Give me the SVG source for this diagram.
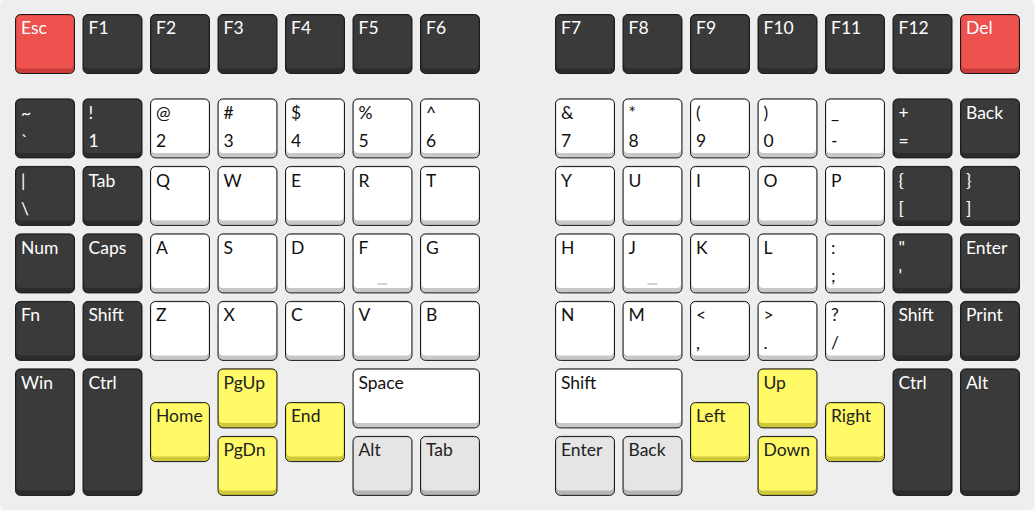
<svg xmlns="http://www.w3.org/2000/svg" width="1035" height="511" viewBox="0 0 1035 511">
<style>
.o{stroke:#1a1a1a;stroke-width:1}
.dk .o{fill:#2c2c2c}.dk .f{fill:#3a3a3a}.dk text{fill:#ffffff}
.wh .o{fill:#c8c8c8}.wh .f{fill:#ffffff}.wh text{fill:#111111}
.rd .o{fill:#c93c3a}.rd .f{fill:#ed524f}.rd text{fill:#ffffff}
.yl .o{fill:#cfc83c}.yl .f{fill:#fffa66}.yl text{fill:#222222}
.gy .o{fill:#b5b5b5}.gy .f{fill:#e5e5e5}.gy text{fill:#222222}
text{font-family:Lato,"Liberation Sans",sans-serif;font-size:17.5px}
.nub{stroke:#c4c4c4;stroke-width:1.5}
</style>
<rect x="0" y="0" width="1035" height="511" fill="#f8f8f8"/>
<rect x="0" y="0" width="1034" height="510" rx="6" fill="#eeeeee"/>

<!-- Row 0 -->
<g id="k-esc" class="rd"><rect class="o" x="15.5" y="14.5" width="59" height="59" rx="5"/><rect class="f" x="16.5" y="15.5" width="57" height="53" rx="4"/><text x="21" y="34">Esc</text></g>
<g id="k-f1" class="dk"><rect class="o" x="83" y="14.5" width="59" height="59" rx="5"/><rect class="f" x="84" y="15.5" width="57" height="53" rx="4"/><text x="88.5" y="34">F1</text></g>
<g id="k-f2" class="dk"><rect class="o" x="150.5" y="14.5" width="59" height="59" rx="5"/><rect class="f" x="151.5" y="15.5" width="57" height="53" rx="4"/><text x="156" y="34">F2</text></g>
<g id="k-f3" class="dk"><rect class="o" x="218" y="14.5" width="59" height="59" rx="5"/><rect class="f" x="219" y="15.5" width="57" height="53" rx="4"/><text x="223.5" y="34">F3</text></g>
<g id="k-f4" class="dk"><rect class="o" x="285.5" y="14.5" width="59" height="59" rx="5"/><rect class="f" x="286.5" y="15.5" width="57" height="53" rx="4"/><text x="291" y="34">F4</text></g>
<g id="k-f5" class="dk"><rect class="o" x="353" y="14.5" width="59" height="59" rx="5"/><rect class="f" x="354" y="15.5" width="57" height="53" rx="4"/><text x="358.5" y="34">F5</text></g>
<g id="k-f6" class="dk"><rect class="o" x="420.5" y="14.5" width="59" height="59" rx="5"/><rect class="f" x="421.5" y="15.5" width="57" height="53" rx="4"/><text x="426" y="34">F6</text></g>
<g id="k-f7" class="dk"><rect class="o" x="555.5" y="14.5" width="59" height="59" rx="5"/><rect class="f" x="556.5" y="15.5" width="57" height="53" rx="4"/><text x="561" y="34">F7</text></g>
<g id="k-f8" class="dk"><rect class="o" x="623" y="14.5" width="59" height="59" rx="5"/><rect class="f" x="624" y="15.5" width="57" height="53" rx="4"/><text x="628.5" y="34">F8</text></g>
<g id="k-f9" class="dk"><rect class="o" x="690.5" y="14.5" width="59" height="59" rx="5"/><rect class="f" x="691.5" y="15.5" width="57" height="53" rx="4"/><text x="696" y="34">F9</text></g>
<g id="k-f10" class="dk"><rect class="o" x="758" y="14.5" width="59" height="59" rx="5"/><rect class="f" x="759" y="15.5" width="57" height="53" rx="4"/><text x="763.5" y="34">F10</text></g>
<g id="k-f11" class="dk"><rect class="o" x="825.5" y="14.5" width="59" height="59" rx="5"/><rect class="f" x="826.5" y="15.5" width="57" height="53" rx="4"/><text x="831" y="34">F11</text></g>
<g id="k-f12" class="dk"><rect class="o" x="893" y="14.5" width="59" height="59" rx="5"/><rect class="f" x="894" y="15.5" width="57" height="53" rx="4"/><text x="898.5" y="34">F12</text></g>
<g id="k-del" class="rd"><rect class="o" x="960.5" y="14.5" width="59" height="59" rx="5"/><rect class="f" x="961.5" y="15.5" width="57" height="53" rx="4"/><text x="966" y="34">Del</text></g>

<!-- Row 1 (y=98.4) -->
<g id="k-tilde" class="dk"><rect class="o" x="15.5" y="98.9" width="59" height="59" rx="5"/><rect class="f" x="16.5" y="99.9" width="57" height="53" rx="4"/><text x="21" y="119">~</text><text x="21" y="147">`</text></g>
<g id="k-1" class="dk"><rect class="o" x="83" y="98.9" width="59" height="59" rx="5"/><rect class="f" x="84" y="99.9" width="57" height="53" rx="4"/><text x="88.5" y="119">!</text><text x="88.5" y="147">1</text></g>
<g id="k-2" class="wh"><rect class="o" x="150.5" y="98.9" width="59" height="59" rx="5"/><rect class="f" x="151.5" y="99.9" width="57" height="53" rx="4"/><text x="156" y="119">@</text><text x="156" y="147">2</text></g>
<g id="k-3" class="wh"><rect class="o" x="218" y="98.9" width="59" height="59" rx="5"/><rect class="f" x="219" y="99.9" width="57" height="53" rx="4"/><text x="223.5" y="119">#</text><text x="223.5" y="147">3</text></g>
<g id="k-4" class="wh"><rect class="o" x="285.5" y="98.9" width="59" height="59" rx="5"/><rect class="f" x="286.5" y="99.9" width="57" height="53" rx="4"/><text x="291" y="119">$</text><text x="291" y="147">4</text></g>
<g id="k-5" class="wh"><rect class="o" x="353" y="98.9" width="59" height="59" rx="5"/><rect class="f" x="354" y="99.9" width="57" height="53" rx="4"/><text x="358.5" y="119">%</text><text x="358.5" y="147">5</text></g>
<g id="k-6" class="wh"><rect class="o" x="420.5" y="98.9" width="59" height="59" rx="5"/><rect class="f" x="421.5" y="99.9" width="57" height="53" rx="4"/><text x="426" y="119">^</text><text x="426" y="147">6</text></g>
<g id="k-7" class="wh"><rect class="o" x="555.5" y="98.9" width="59" height="59" rx="5"/><rect class="f" x="556.5" y="99.9" width="57" height="53" rx="4"/><text x="561" y="119">&amp;</text><text x="561" y="147">7</text></g>
<g id="k-8" class="wh"><rect class="o" x="623" y="98.9" width="59" height="59" rx="5"/><rect class="f" x="624" y="99.9" width="57" height="53" rx="4"/><text x="628.5" y="119">*</text><text x="628.5" y="147">8</text></g>
<g id="k-9" class="wh"><rect class="o" x="690.5" y="98.9" width="59" height="59" rx="5"/><rect class="f" x="691.5" y="99.9" width="57" height="53" rx="4"/><text x="696" y="119">(</text><text x="696" y="147">9</text></g>
<g id="k-0" class="wh"><rect class="o" x="758" y="98.9" width="59" height="59" rx="5"/><rect class="f" x="759" y="99.9" width="57" height="53" rx="4"/><text x="763.5" y="119">)</text><text x="763.5" y="147">0</text></g>
<g id="k-minus" class="wh"><rect class="o" x="825.5" y="98.9" width="59" height="59" rx="5"/><rect class="f" x="826.5" y="99.9" width="57" height="53" rx="4"/><text x="831" y="119">_</text><text x="831" y="147">-</text></g>
<g id="k-equal" class="dk"><rect class="o" x="893" y="98.9" width="59" height="59" rx="5"/><rect class="f" x="894" y="99.9" width="57" height="53" rx="4"/><text x="898.5" y="119">+</text><text x="898.5" y="147">=</text></g>
<g id="k-back" class="dk"><rect class="o" x="960.5" y="98.9" width="59" height="59" rx="5"/><rect class="f" x="961.5" y="99.9" width="57" height="53" rx="4"/><text x="966" y="119">Back</text></g>

<!-- Row 2 (y=165.9) -->
<g id="k-pipe" class="dk"><rect class="o" x="15.5" y="166.4" width="59" height="59" rx="5"/><rect class="f" x="16.5" y="167.4" width="57" height="53" rx="4"/><text x="21" y="186.5">|</text><text x="21" y="214.5">\</text></g>
<g id="k-tab" class="dk"><rect class="o" x="83" y="166.4" width="59" height="59" rx="5"/><rect class="f" x="84" y="167.4" width="57" height="53" rx="4"/><text x="88.5" y="186.5">Tab</text></g>
<g id="k-q" class="wh"><rect class="o" x="150.5" y="166.4" width="59" height="59" rx="5"/><rect class="f" x="151.5" y="167.4" width="57" height="53" rx="4"/><text x="156" y="186.5">Q</text></g>
<g id="k-w" class="wh"><rect class="o" x="218" y="166.4" width="59" height="59" rx="5"/><rect class="f" x="219" y="167.4" width="57" height="53" rx="4"/><text x="223.5" y="186.5">W</text></g>
<g id="k-e" class="wh"><rect class="o" x="285.5" y="166.4" width="59" height="59" rx="5"/><rect class="f" x="286.5" y="167.4" width="57" height="53" rx="4"/><text x="291" y="186.5">E</text></g>
<g id="k-r" class="wh"><rect class="o" x="353" y="166.4" width="59" height="59" rx="5"/><rect class="f" x="354" y="167.4" width="57" height="53" rx="4"/><text x="358.5" y="186.5">R</text></g>
<g id="k-t" class="wh"><rect class="o" x="420.5" y="166.4" width="59" height="59" rx="5"/><rect class="f" x="421.5" y="167.4" width="57" height="53" rx="4"/><text x="426" y="186.5">T</text></g>
<g id="k-y" class="wh"><rect class="o" x="555.5" y="166.4" width="59" height="59" rx="5"/><rect class="f" x="556.5" y="167.4" width="57" height="53" rx="4"/><text x="561" y="186.5">Y</text></g>
<g id="k-u" class="wh"><rect class="o" x="623" y="166.4" width="59" height="59" rx="5"/><rect class="f" x="624" y="167.4" width="57" height="53" rx="4"/><text x="628.5" y="186.5">U</text></g>
<g id="k-i" class="wh"><rect class="o" x="690.5" y="166.4" width="59" height="59" rx="5"/><rect class="f" x="691.5" y="167.4" width="57" height="53" rx="4"/><text x="696" y="186.5">I</text></g>
<g id="k-o" class="wh"><rect class="o" x="758" y="166.4" width="59" height="59" rx="5"/><rect class="f" x="759" y="167.4" width="57" height="53" rx="4"/><text x="763.5" y="186.5">O</text></g>
<g id="k-p" class="wh"><rect class="o" x="825.5" y="166.4" width="59" height="59" rx="5"/><rect class="f" x="826.5" y="167.4" width="57" height="53" rx="4"/><text x="831" y="186.5">P</text></g>
<g id="k-lbr" class="dk"><rect class="o" x="893" y="166.4" width="59" height="59" rx="5"/><rect class="f" x="894" y="167.4" width="57" height="53" rx="4"/><text x="898.5" y="186.5">{</text><text x="898.5" y="214.5">[</text></g>
<g id="k-rbr" class="dk"><rect class="o" x="960.5" y="166.4" width="59" height="59" rx="5"/><rect class="f" x="961.5" y="167.4" width="57" height="53" rx="4"/><text x="966" y="186.5">}</text><text x="966" y="214.5">]</text></g>

<!-- Row 3 (y=233.4) -->
<g id="k-num" class="dk"><rect class="o" x="15.5" y="233.9" width="59" height="59" rx="5"/><rect class="f" x="16.5" y="234.9" width="57" height="53" rx="4"/><text x="21" y="254">Num</text></g>
<g id="k-caps" class="dk"><rect class="o" x="83" y="233.9" width="59" height="59" rx="5"/><rect class="f" x="84" y="234.9" width="57" height="53" rx="4"/><text x="88.5" y="254">Caps</text></g>
<g id="k-a" class="wh"><rect class="o" x="150.5" y="233.9" width="59" height="59" rx="5"/><rect class="f" x="151.5" y="234.9" width="57" height="53" rx="4"/><text x="156" y="254">A</text></g>
<g id="k-s" class="wh"><rect class="o" x="218" y="233.9" width="59" height="59" rx="5"/><rect class="f" x="219" y="234.9" width="57" height="53" rx="4"/><text x="223.5" y="254">S</text></g>
<g id="k-d" class="wh"><rect class="o" x="285.5" y="233.9" width="59" height="59" rx="5"/><rect class="f" x="286.5" y="234.9" width="57" height="53" rx="4"/><text x="291" y="254">D</text></g>
<g id="k-f" class="wh"><rect class="o" x="353" y="233.9" width="59" height="59" rx="5"/><rect class="f" x="354" y="234.9" width="57" height="53" rx="4"/><text x="358.5" y="254">F</text><line class="nub" x1="377.5" y1="284" x2="387.5" y2="284"/></g>
<g id="k-g" class="wh"><rect class="o" x="420.5" y="233.9" width="59" height="59" rx="5"/><rect class="f" x="421.5" y="234.9" width="57" height="53" rx="4"/><text x="426" y="254">G</text></g>
<g id="k-h" class="wh"><rect class="o" x="555.5" y="233.9" width="59" height="59" rx="5"/><rect class="f" x="556.5" y="234.9" width="57" height="53" rx="4"/><text x="561" y="254">H</text></g>
<g id="k-j" class="wh"><rect class="o" x="623" y="233.9" width="59" height="59" rx="5"/><rect class="f" x="624" y="234.9" width="57" height="53" rx="4"/><text x="628.5" y="254">J</text><line class="nub" x1="647.5" y1="284" x2="657.5" y2="284"/></g>
<g id="k-k" class="wh"><rect class="o" x="690.5" y="233.9" width="59" height="59" rx="5"/><rect class="f" x="691.5" y="234.9" width="57" height="53" rx="4"/><text x="696" y="254">K</text></g>
<g id="k-l" class="wh"><rect class="o" x="758" y="233.9" width="59" height="59" rx="5"/><rect class="f" x="759" y="234.9" width="57" height="53" rx="4"/><text x="763.5" y="254">L</text></g>
<g id="k-semi" class="wh"><rect class="o" x="825.5" y="233.9" width="59" height="59" rx="5"/><rect class="f" x="826.5" y="234.9" width="57" height="53" rx="4"/><text x="831" y="254">:</text><text x="831" y="282">;</text></g>
<g id="k-quote" class="dk"><rect class="o" x="893" y="233.9" width="59" height="59" rx="5"/><rect class="f" x="894" y="234.9" width="57" height="53" rx="4"/><text x="898.5" y="254">"</text><text x="898.5" y="282">'</text></g>
<g id="k-enter" class="dk"><rect class="o" x="960.5" y="233.9" width="59" height="59" rx="5"/><rect class="f" x="961.5" y="234.9" width="57" height="53" rx="4"/><text x="966" y="254">Enter</text></g>

<!-- Row 4 (y=300.9) -->
<g id="k-fn" class="dk"><rect class="o" x="15.5" y="301.4" width="59" height="59" rx="5"/><rect class="f" x="16.5" y="302.4" width="57" height="53" rx="4"/><text x="21" y="321">Fn</text></g>
<g id="k-lshift" class="dk"><rect class="o" x="83" y="301.4" width="59" height="59" rx="5"/><rect class="f" x="84" y="302.4" width="57" height="53" rx="4"/><text x="88.5" y="321">Shift</text></g>
<g id="k-z" class="wh"><rect class="o" x="150.5" y="301.4" width="59" height="59" rx="5"/><rect class="f" x="151.5" y="302.4" width="57" height="53" rx="4"/><text x="156" y="321">Z</text></g>
<g id="k-x" class="wh"><rect class="o" x="218" y="301.4" width="59" height="59" rx="5"/><rect class="f" x="219" y="302.4" width="57" height="53" rx="4"/><text x="223.5" y="321">X</text></g>
<g id="k-c" class="wh"><rect class="o" x="285.5" y="301.4" width="59" height="59" rx="5"/><rect class="f" x="286.5" y="302.4" width="57" height="53" rx="4"/><text x="291" y="321">C</text></g>
<g id="k-v" class="wh"><rect class="o" x="353" y="301.4" width="59" height="59" rx="5"/><rect class="f" x="354" y="302.4" width="57" height="53" rx="4"/><text x="358.5" y="321">V</text></g>
<g id="k-b" class="wh"><rect class="o" x="420.5" y="301.4" width="59" height="59" rx="5"/><rect class="f" x="421.5" y="302.4" width="57" height="53" rx="4"/><text x="426" y="321">B</text></g>
<g id="k-n" class="wh"><rect class="o" x="555.5" y="301.4" width="59" height="59" rx="5"/><rect class="f" x="556.5" y="302.4" width="57" height="53" rx="4"/><text x="561" y="321">N</text></g>
<g id="k-m" class="wh"><rect class="o" x="623" y="301.4" width="59" height="59" rx="5"/><rect class="f" x="624" y="302.4" width="57" height="53" rx="4"/><text x="628.5" y="321">M</text></g>
<g id="k-comma" class="wh"><rect class="o" x="690.5" y="301.4" width="59" height="59" rx="5"/><rect class="f" x="691.5" y="302.4" width="57" height="53" rx="4"/><text x="696" y="321">&lt;</text><text x="696" y="349">,</text></g>
<g id="k-period" class="wh"><rect class="o" x="758" y="301.4" width="59" height="59" rx="5"/><rect class="f" x="759" y="302.4" width="57" height="53" rx="4"/><text x="763.5" y="321">&gt;</text><text x="763.5" y="349">.</text></g>
<g id="k-slash" class="wh"><rect class="o" x="825.5" y="301.4" width="59" height="59" rx="5"/><rect class="f" x="826.5" y="302.4" width="57" height="53" rx="4"/><text x="831" y="321">?</text><text x="831" y="349">/</text></g>
<g id="k-rshift" class="dk"><rect class="o" x="893" y="301.4" width="59" height="59" rx="5"/><rect class="f" x="894" y="302.4" width="57" height="53" rx="4"/><text x="898.5" y="321">Shift</text></g>
<g id="k-print" class="dk"><rect class="o" x="960.5" y="301.4" width="59" height="59" rx="5"/><rect class="f" x="961.5" y="302.4" width="57" height="53" rx="4"/><text x="966" y="321">Print</text></g>

<!-- Thumb rows -->
<g id="k-win" class="dk"><rect class="o" x="15.5" y="368.9" width="59" height="126.5" rx="5"/><rect class="f" x="16.5" y="369.9" width="57" height="120.5" rx="4"/><text x="21" y="389">Win</text></g>
<g id="k-lctrl" class="dk"><rect class="o" x="83" y="368.9" width="59" height="126.5" rx="5"/><rect class="f" x="84" y="369.9" width="57" height="120.5" rx="4"/><text x="88.5" y="389">Ctrl</text></g>
<g id="k-home" class="yl"><rect class="o" x="150.5" y="402.6" width="59" height="59" rx="5"/><rect class="f" x="151.5" y="403.6" width="57" height="53" rx="4"/><text x="156" y="422">Home</text></g>
<g id="k-pgup" class="yl"><rect class="o" x="218" y="368.9" width="59" height="59" rx="5"/><rect class="f" x="219" y="369.9" width="57" height="53" rx="4"/><text x="223.5" y="389">PgUp</text></g>
<g id="k-pgdn" class="yl"><rect class="o" x="218" y="436.4" width="59" height="59" rx="5"/><rect class="f" x="219" y="437.4" width="57" height="53" rx="4"/><text x="223.5" y="456">PgDn</text></g>
<g id="k-end" class="yl"><rect class="o" x="285.5" y="402.6" width="59" height="59" rx="5"/><rect class="f" x="286.5" y="403.6" width="57" height="53" rx="4"/><text x="291" y="422">End</text></g>
<g id="k-space" class="wh"><rect class="o" x="353" y="368.9" width="126.5" height="59" rx="5"/><rect class="f" x="354" y="369.9" width="124.5" height="53" rx="4"/><text x="358.5" y="389">Space</text></g>
<g id="k-lalt" class="gy"><rect class="o" x="353" y="436.4" width="59" height="59" rx="5"/><rect class="f" x="354" y="437.4" width="57" height="53" rx="4"/><text x="358.5" y="456">Alt</text></g>
<g id="k-ltab" class="gy"><rect class="o" x="420.5" y="436.4" width="59" height="59" rx="5"/><rect class="f" x="421.5" y="437.4" width="57" height="53" rx="4"/><text x="426" y="456">Tab</text></g>

<g id="k-shift2" class="wh"><rect class="o" x="555.5" y="368.9" width="126.5" height="59" rx="5"/><rect class="f" x="556.5" y="369.9" width="124.5" height="53" rx="4"/><text x="561" y="389">Shift</text></g>
<g id="k-renter" class="gy"><rect class="o" x="555.5" y="436.4" width="59" height="59" rx="5"/><rect class="f" x="556.5" y="437.4" width="57" height="53" rx="4"/><text x="561" y="456">Enter</text></g>
<g id="k-rback" class="gy"><rect class="o" x="623" y="436.4" width="59" height="59" rx="5"/><rect class="f" x="624" y="437.4" width="57" height="53" rx="4"/><text x="628.5" y="456">Back</text></g>
<g id="k-left" class="yl"><rect class="o" x="690.5" y="402.6" width="59" height="59" rx="5"/><rect class="f" x="691.5" y="403.6" width="57" height="53" rx="4"/><text x="696" y="422">Left</text></g>
<g id="k-up" class="yl"><rect class="o" x="758" y="368.9" width="59" height="59" rx="5"/><rect class="f" x="759" y="369.9" width="57" height="53" rx="4"/><text x="763.5" y="389">Up</text></g>
<g id="k-down" class="yl"><rect class="o" x="758" y="436.4" width="59" height="59" rx="5"/><rect class="f" x="759" y="437.4" width="57" height="53" rx="4"/><text x="763.5" y="456">Down</text></g>
<g id="k-right" class="yl"><rect class="o" x="825.5" y="402.6" width="59" height="59" rx="5"/><rect class="f" x="826.5" y="403.6" width="57" height="53" rx="4"/><text x="831" y="422">Right</text></g>
<g id="k-rctrl" class="dk"><rect class="o" x="893" y="368.9" width="59" height="126.5" rx="5"/><rect class="f" x="894" y="369.9" width="57" height="120.5" rx="4"/><text x="898.5" y="389">Ctrl</text></g>
<g id="k-ralt" class="dk"><rect class="o" x="960.5" y="368.9" width="59" height="126.5" rx="5"/><rect class="f" x="961.5" y="369.9" width="57" height="120.5" rx="4"/><text x="966" y="389">Alt</text></g>
<g id="connectors"/>
</svg>
